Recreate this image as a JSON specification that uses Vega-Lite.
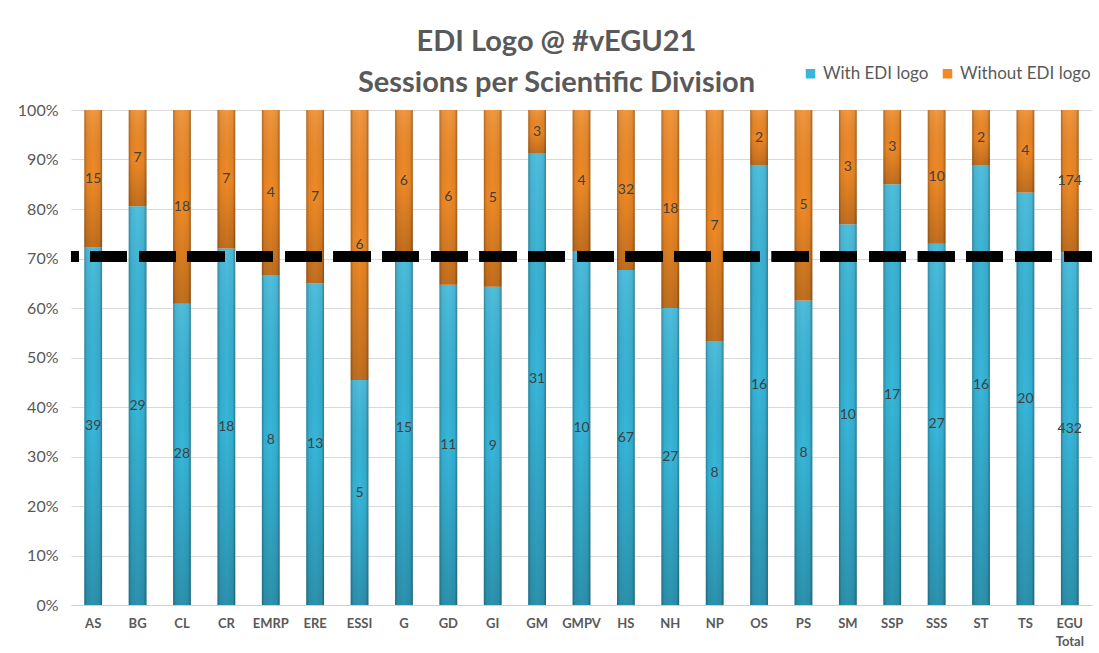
{
  "$schema": "https://vega.github.io/schema/vega-lite/v6.json",
  "width": 1021,
  "height": 495,
  "autosize": {"type": "none"},
  "padding": {"left": 71, "top": 110, "right": 7, "bottom": 48},
  "background": "white",
  "title": {
    "text": ["EDI Logo @ #vEGU21", "Sessions per Scientific Division"],
    "font": "Lato",
    "fontSize": 29,
    "fontWeight": "bold",
    "color": "#595959",
    "lineHeight": 41,
    "anchor": "middle",
    "dx": -25,
    "offset": -33
  },
  "config": {
    "view": {"stroke": null},
    "axis": {"labelFont": "Lato", "labelColor": "#595959", "gridColor": "#d9d9d9", "domainColor": "#d9d9d9", "ticks": false}
  },
  "data": {
    "values": [
      {"cat": "AS", "series": "With EDI logo", "count": 39}, {"cat": "AS", "series": "Without EDI logo", "count": 15},
      {"cat": "BG", "series": "With EDI logo", "count": 29}, {"cat": "BG", "series": "Without EDI logo", "count": 7},
      {"cat": "CL", "series": "With EDI logo", "count": 28}, {"cat": "CL", "series": "Without EDI logo", "count": 18},
      {"cat": "CR", "series": "With EDI logo", "count": 18}, {"cat": "CR", "series": "Without EDI logo", "count": 7},
      {"cat": "EMRP", "series": "With EDI logo", "count": 8}, {"cat": "EMRP", "series": "Without EDI logo", "count": 4},
      {"cat": "ERE", "series": "With EDI logo", "count": 13}, {"cat": "ERE", "series": "Without EDI logo", "count": 7},
      {"cat": "ESSI", "series": "With EDI logo", "count": 5}, {"cat": "ESSI", "series": "Without EDI logo", "count": 6},
      {"cat": "G", "series": "With EDI logo", "count": 15}, {"cat": "G", "series": "Without EDI logo", "count": 6},
      {"cat": "GD", "series": "With EDI logo", "count": 11}, {"cat": "GD", "series": "Without EDI logo", "count": 6},
      {"cat": "GI", "series": "With EDI logo", "count": 9}, {"cat": "GI", "series": "Without EDI logo", "count": 5},
      {"cat": "GM", "series": "With EDI logo", "count": 31}, {"cat": "GM", "series": "Without EDI logo", "count": 3},
      {"cat": "GMPV", "series": "With EDI logo", "count": 10}, {"cat": "GMPV", "series": "Without EDI logo", "count": 4},
      {"cat": "HS", "series": "With EDI logo", "count": 67}, {"cat": "HS", "series": "Without EDI logo", "count": 32},
      {"cat": "NH", "series": "With EDI logo", "count": 27}, {"cat": "NH", "series": "Without EDI logo", "count": 18},
      {"cat": "NP", "series": "With EDI logo", "count": 8}, {"cat": "NP", "series": "Without EDI logo", "count": 7},
      {"cat": "OS", "series": "With EDI logo", "count": 16}, {"cat": "OS", "series": "Without EDI logo", "count": 2},
      {"cat": "PS", "series": "With EDI logo", "count": 8}, {"cat": "PS", "series": "Without EDI logo", "count": 5},
      {"cat": "SM", "series": "With EDI logo", "count": 10}, {"cat": "SM", "series": "Without EDI logo", "count": 3},
      {"cat": "SSP", "series": "With EDI logo", "count": 17}, {"cat": "SSP", "series": "Without EDI logo", "count": 3},
      {"cat": "SSS", "series": "With EDI logo", "count": 27}, {"cat": "SSS", "series": "Without EDI logo", "count": 10},
      {"cat": "ST", "series": "With EDI logo", "count": 16}, {"cat": "ST", "series": "Without EDI logo", "count": 2},
      {"cat": "TS", "series": "With EDI logo", "count": 20}, {"cat": "TS", "series": "Without EDI logo", "count": 4},
      {"cat": "EGU Total", "series": "With EDI logo", "count": 432}, {"cat": "EGU Total", "series": "Without EDI logo", "count": 174}
    ]
  },
  "transform": [
    {"stack": "count", "groupby": ["cat"], "offset": "normalize", "sort": [{"field": "series", "order": "ascending"}], "as": ["y0", "y1"]},
    {"calculate": "(datum.y0 + datum.y1) / 2", "as": "ymid"}
  ],
  "layer": [
    {
      "mark": {"type": "bar"},
      "encoding": {
        "x": {
          "field": "cat", "type": "nominal", "sort": null, "title": null,
          "scale": {"paddingInner": 0.6, "paddingOuter": 0.3},
          "axis": {"labelAngle": 0, "labelFontSize": 13, "labelFontWeight": "bold", "labelPadding": 12, "domainColor": "#d0d0d0", "labelExpr": "split(datum.label, ' ')", "labelLineHeight": 18}
        },
        "y": {"field": "y0", "type": "quantitative", "title": null,
          "scale": {"domain": [0, 1]},
          "axis": {"format": ".0%", "values": [0,0.1,0.2,0.3,0.4,0.5,0.6,0.7,0.8,0.9,1], "labelOverlap": false, "labelFontSize": 16, "labelPadding": 13, "domain": false, "grid": true}},
        "y2": {"field": "y1"},
        "color": {
          "field": "series", "type": "nominal",
          "scale": {"domain": ["With EDI logo", "Without EDI logo"], "range": ["#37b6d9", "#f08a26"]},
          "legend": {"title": null, "orient": "none", "direction": "horizontal", "legendX": 731, "legendY": -45, "labelFont": "Lato", "labelFontSize": 17, "labelColor": "#595959", "symbolType": "square", "symbolSize": 90, "columnPadding": 10, "labelOffset": 4}
        }
      }
    },
    {
      "mark": {"type": "bar", "color": {"gradient": "linear", "x1": 0, "y1": 0, "x2": 0, "y2": 1, "stops": [{"offset": 0, "color": "rgba(255,255,255,0.12)"}, {"offset": 0.5, "color": "rgba(0,0,0,0)"}, {"offset": 1, "color": "rgba(0,0,0,0.2)"}]}},
      "encoding": {"x": {"field": "cat", "type": "nominal", "sort": null}, "y": {"field": "y0", "type": "quantitative"}, "y2": {"field": "y1"}}
    },
    {
      "mark": {"type": "bar", "color": {"gradient": "linear", "x1": 0, "y1": 0, "x2": 1, "y2": 0, "stops": [{"offset": 0, "color": "rgba(0,0,0,0.28)"}, {"offset": 0.15, "color": "rgba(0,0,0,0.05)"}, {"offset": 0.5, "color": "rgba(0,0,0,0)"}, {"offset": 0.85, "color": "rgba(0,0,0,0.05)"}, {"offset": 1, "color": "rgba(0,0,0,0.32)"}]}},
      "encoding": {"x": {"field": "cat", "type": "nominal", "sort": null}, "y": {"field": "y0", "type": "quantitative"}, "y2": {"field": "y1"}}
    },
    {
      "mark": {"type": "text", "font": "Lato", "fontSize": 14, "color": "#404040", "baseline": "middle"},
      "encoding": {"x": {"field": "cat", "type": "nominal", "sort": null}, "y": {"field": "ymid", "type": "quantitative"}, "text": {"field": "count", "type": "quantitative"}}
    },
    {
      "mark": {"type": "rule", "color": "black", "strokeWidth": 11, "strokeDash": [36.3, 12.37], "strokeDashOffset": 8.3},
      "encoding": {"y": {"datum": 0.704}}
    }
  ]
}
